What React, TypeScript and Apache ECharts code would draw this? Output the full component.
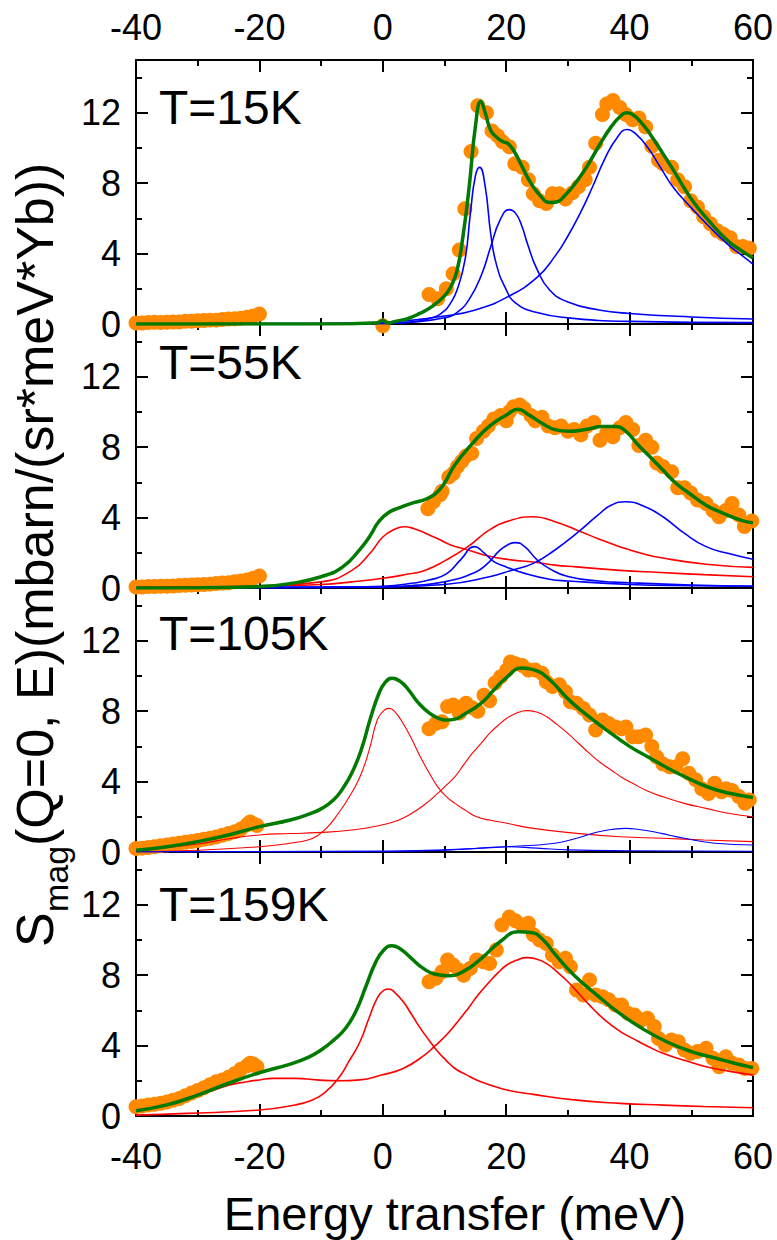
import React, { useEffect, useRef } from 'react';
import * as echarts from 'echarts';

type P = [number, number];

// ---------- T = 15 K ----------
const data15: P[] = [
  [-40, 0.05], [-39, 0.05], [-38, 0.08], [-37, 0.1], [-36, 0.08], [-35, 0.1], [-34, 0.12], [-33, 0.12],
  [-32, 0.15], [-31, 0.15], [-30, 0.18], [-29, 0.2], [-28, 0.22], [-27, 0.22], [-26, 0.25], [-25, 0.28],
  [-24, 0.3], [-23, 0.33], [-22, 0.38], [-21, 0.45], [-20, 0.57], [0, -0.1],
  [7.5, 1.67], [8.9, 1.43], [10.3, 2.0], [11.4, 2.85], [12.4, 4.2], [13.3, 6.55], [14.3, 9.8], [15.4, 12.4],
  [16.8, 12.0], [17.7, 10.97], [18.6, 10.7], [19.4, 10.36], [20.5, 10.07], [21.4, 9.1], [22.6, 8.9], [23.6, 8.2],
  [24.4, 7.4], [25.4, 7.0], [26.5, 6.85], [27.5, 7.4], [28.6, 7.4], [29.6, 7.1], [30.7, 7.45], [31.7, 7.8],
  [32.8, 8.2], [33.5, 8.9], [34.5, 10.27], [35.6, 11.9], [36.3, 12.5], [37.3, 12.7], [38.4, 12.3], [39.4, 11.9],
  [40.5, 11.6], [41.5, 11.7], [42.6, 11.2], [43.6, 10.1], [44.7, 9.3], [45.4, 9.1], [46.8, 8.9], [47.8, 8.2],
  [48.9, 7.8], [49.9, 7.0], [51.0, 6.65], [52.0, 6.1], [53.1, 5.7], [54.2, 5.3], [55.2, 5.1], [56.3, 4.9],
  [57.3, 4.4], [58.4, 4.4], [59.4, 4.3],
];
const fit15: P[] = [
  [-40, 0], [-20, 0], [-5, 0.02], [-1, 0.05], [0, 0.2], [0.8, 0.05], [2, 0.15], [4, 0.3], [6, 0.6], [8, 1.0],
  [10, 1.6], [11, 2.1], [12, 3.0], [13, 5.0], [14, 7.8], [15, 11.2], [15.9, 12.65], [16.6, 12.0], [17.5, 11.0],
  [18.5, 10.6], [19.5, 10.35], [20.3, 10.25], [21.3, 9.8], [22.5, 9.0], [24, 8.0], [25.5, 7.3], [27, 6.9],
  [28.3, 6.95], [29.5, 7.3], [31, 7.9], [33, 8.9], [35, 10.1], [37, 11.2], [38.5, 11.8], [39.5, 12.0],
  [40.5, 11.9], [42, 11.4], [43.5, 10.7], [45, 9.9], [47, 8.8], [50, 7.1], [53, 5.8], [56, 4.7], [58, 4.2], [60, 3.75],
];
const blue15a: P[] = [
  [-40, 0], [-10, 0.01], [0, 0.03], [5, 0.12], [8, 0.35], [10, 0.75], [11, 1.2], [12, 1.9], [13.3, 3.6],
  [14.2, 6.3], [15.0, 8.4], [15.7, 8.9], [16.6, 7.8], [17.5, 5.1], [18.4, 3.4], [19.8, 2.1], [21.5, 1.2],
  [25, 0.65], [30, 0.35], [40, 0.15], [60, 0.08],
];
const blue15b: P[] = [
  [-40, 0], [0, 0.03], [5, 0.12], [10, 0.35], [12, 0.65], [14, 1.4], [16, 2.8], [17.5, 4.4], [19, 5.9],
  [20.5, 6.5], [21.5, 6.3], [22.5, 5.6], [23.5, 4.5], [25, 3.1], [27, 1.95], [30, 1.25], [35, 0.8], [40, 0.6],
  [50, 0.4], [60, 0.28],
];
const blue15c: P[] = [
  [-40, 0], [-10, 0.03], [0, 0.1], [10, 0.45], [15, 0.8], [20, 1.5], [25, 2.65], [28, 3.9], [30, 5.0],
  [32, 6.3], [34, 7.8], [36, 9.4], [38, 10.6], [39.6, 11.05], [41, 10.8], [43, 10.0], [45, 8.9], [47, 7.8],
  [50, 6.6], [53, 5.5], [56, 4.5], [58, 3.95], [60, 3.4],
];

// ---------- T = 55 K ----------
const data55: P[] = [
  [-40, 0.05], [-39, 0.06], [-38, 0.08], [-37, 0.08], [-36, 0.1], [-35, 0.1], [-34, 0.12], [-33, 0.14],
  [-32, 0.15], [-31, 0.17], [-30, 0.18], [-29, 0.2], [-28, 0.22], [-27, 0.25], [-26, 0.28], [-25, 0.3],
  [-24, 0.35], [-23, 0.4], [-22, 0.45], [-21, 0.55], [-20, 0.68],
  [7.3, 4.5], [8.2, 4.9], [9.3, 5.3], [9.6, 5.5], [10.7, 6.3], [11.4, 6.5], [12.1, 6.9], [12.8, 7.2],
  [13.5, 7.5], [14.4, 7.65], [15.2, 8.5], [16.3, 8.9], [17.1, 9.2], [18.0, 9.6], [19.1, 9.8], [20.0, 9.5],
  [20.5, 10.0], [21.2, 10.3], [22.2, 10.4], [22.9, 10.2], [24.0, 9.8], [24.7, 9.5], [25.8, 9.7], [26.8, 9.2],
  [27.9, 9.1], [28.9, 9.2], [30.0, 8.9], [31.0, 9.0], [32.1, 8.7], [33.1, 9.2], [34.2, 9.4], [35.2, 8.4],
  [36.3, 8.8], [37.3, 8.6], [38.4, 9.1], [39.4, 9.4], [40.5, 9.0], [41.5, 8.1], [42.6, 8.4], [43.6, 8.0],
  [44.4, 7.1], [45.4, 6.9], [46.8, 6.6], [47.8, 5.7], [48.9, 5.7], [49.9, 5.4], [51.0, 5.0], [52.4, 4.8],
  [53.5, 4.4], [54.5, 4.05], [55.6, 4.4], [56.6, 4.8], [57.7, 4.15], [58.6, 3.5], [59.8, 3.8],
];
const fit55: P[] = [
  [-40, 0], [-30, 0.02], [-20, 0.08], [-15, 0.25], [-10, 0.64], [-6.5, 1.2], [-3.7, 2.2], [-2, 3.0],
  [-0.7, 3.75], [1, 4.3], [3, 4.6], [5, 4.85], [7, 5.05], [8.5, 5.35], [9.8, 5.85], [11.7, 7.0],
  [14.5, 8.2], [17.3, 9.2], [20.1, 9.85], [21.9, 10.15], [23.6, 9.85], [25.8, 9.36], [27.9, 9.0], [30.3, 8.9],
  [32.8, 9.0], [35.6, 9.17], [37.7, 9.17], [39.4, 8.9], [41.2, 8.2], [43.3, 7.46], [45.4, 6.7], [47.5, 5.95],
  [49.6, 5.4], [52.4, 4.7], [55.2, 4.24], [58, 3.86], [60, 3.7],
];
const red55a: P[] = [
  [-40, 0.04], [-30, 0.06], [-20, 0.12], [-10, 0.35], [-5, 1.0], [-2, 2.0], [0, 2.9], [2, 3.35], [3.5, 3.48],
  [5, 3.38], [7, 3.1], [8.9, 2.8], [11, 2.45], [13.8, 2.16], [17.3, 1.8], [20.8, 1.6], [24.4, 1.48],
  [27.9, 1.3], [31.4, 1.2], [38.4, 1.0], [45, 0.88], [52, 0.76], [60, 0.64],
];
const red55b: P[] = [
  [-40, 0.02], [-20, 0.08], [-10, 0.2], [-5, 0.35], [0, 0.55], [3.5, 0.75], [6.8, 1.0], [10.3, 1.6],
  [13.8, 2.35], [17.3, 3.3], [20.8, 3.85], [24.4, 4.05], [27.9, 3.77], [31.4, 3.3], [34.9, 2.8], [38.4, 2.35],
  [41.9, 1.97], [45.4, 1.7], [52.4, 1.35], [60, 1.17],
];
const blue55a: P[] = [
  [-40, 0], [-10, 0.03], [0, 0.1], [5, 0.28], [7.5, 0.45], [10.3, 0.8], [12.6, 1.6], [14.9, 2.35],
  [16.5, 1.97], [18, 1.5], [20, 1.2], [23, 0.83], [27, 0.5], [30, 0.4], [40, 0.2], [50, 0.13], [60, 0.1],
];
const blue55b: P[] = [
  [-40, 0], [0, 0.07], [5, 0.15], [10, 0.35], [15, 0.9], [17, 1.4], [19, 2.15], [20.5, 2.5], [21.5, 2.58],
  [23, 2.35], [25, 1.6], [27, 1.1], [30, 0.65], [35, 0.4], [40, 0.3], [50, 0.17], [60, 0.1],
];
const blue55c: P[] = [
  [-40, 0], [0, 0.05], [10, 0.2], [17.3, 0.64], [20.8, 1.0], [24.4, 1.4], [27.9, 2.16], [31.4, 3.1],
  [34.9, 4.15], [37, 4.7], [39.4, 4.9], [42.6, 4.6], [45.4, 4.05], [48.9, 3.1], [52.4, 2.35], [55.9, 1.97],
  [60, 1.63],
];

// ---------- T = 105 K ----------
const data105: P[] = [
  [-40, 0.2], [-39, 0.22], [-38, 0.25], [-37, 0.3], [-36, 0.35], [-35, 0.4], [-34, 0.45], [-33, 0.5],
  [-32, 0.55], [-31, 0.6], [-30, 0.65], [-29, 0.72], [-28, 0.78], [-27, 0.85], [-26, 0.95], [-25, 1.05],
  [-24, 1.15], [-23, 1.3], [-22, 1.55], [-21.5, 1.7], [-21, 1.6], [-20.4, 1.5],
  [7.5, 7.0], [8.6, 7.3], [9.6, 7.4], [10.5, 8.26], [11.4, 8.35], [12.4, 7.9], [13.5, 8.45], [14.5, 8.2],
  [15.4, 8.0], [16.4, 8.9], [17.3, 8.6], [18.2, 9.6], [19.1, 9.96], [20.1, 10.34], [20.7, 10.8], [21.5, 10.7],
  [22.6, 10.6], [23.6, 10.34], [24.7, 10.34], [25.8, 10.15], [26.5, 9.68], [27.5, 9.4], [28.6, 9.5], [29.6, 9.1],
  [30.4, 8.54], [31.4, 8.45], [32.5, 8.16], [33.5, 7.78], [34.5, 6.93], [35.6, 7.5], [36.6, 7.3], [37.7, 7.1],
  [38.7, 7.0], [39.4, 7.1], [40.5, 6.55], [41.5, 6.55], [42.6, 6.65], [43.6, 6.0], [44.4, 5.4], [45.4, 5.0],
  [46.5, 4.85], [47.5, 4.85], [48.6, 5.3], [49.6, 4.47], [50.7, 4.1], [51.7, 3.6], [52.8, 3.33], [53.8, 3.9],
  [54.9, 3.43], [55.6, 3.6], [56.6, 3.5], [57.7, 3.15], [58.7, 2.77], [59.4, 2.95],
];
const fit105: P[] = [
  [-40, 0.1], [-35, 0.3], [-30, 0.59], [-25, 0.97], [-20, 1.44], [-15, 1.82], [-12, 2.15], [-10, 2.45],
  [-8, 2.95], [-6.5, 3.6], [-5, 4.5], [-3.5, 5.8], [-2, 7.6], [-0.7, 8.95], [0.3, 9.6], [1.5, 9.87],
  [2.8, 9.7], [4.2, 9.2], [5.7, 8.5], [7.5, 7.9], [9, 7.6], [10.3, 7.5], [11.7, 7.55], [13.1, 7.8],
  [15.9, 8.45], [18, 9.2], [20, 9.9], [22.5, 10.45], [24.5, 10.35], [27, 9.8], [30, 8.7], [33, 7.8],
  [36, 7.0], [40, 6.0], [43, 5.4], [46, 4.8], [50, 4.1], [53, 3.65], [56, 3.35], [60, 3.1],
];
const red105a: P[] = [
  [-40, 0.03], [-30, 0.1], [-20, 0.3], [-15, 0.5], [-12, 0.7], [-10.5, 0.95], [-9, 1.4], [-7.2, 2.2],
  [-5.5, 3.1], [-3.7, 4.28], [-2.2, 5.8], [-0.9, 7.5], [0.2, 8.05], [1.05, 8.16], [2, 7.95], [3.3, 7.3],
  [4.7, 6.4], [6.1, 5.4], [7.5, 4.5], [8.9, 3.7], [10.3, 3.15], [11.7, 2.76], [13.5, 2.35], [15.2, 2.0],
  [17.5, 1.8], [20.1, 1.63], [24.4, 1.34], [31.4, 1.06], [38.4, 0.87], [45.4, 0.78], [52, 0.68], [60, 0.59],
];
const red105b: P[] = [
  [-40, 0.1], [-35, 0.25], [-30, 0.45], [-25, 0.75], [-20, 0.97], [-15, 1.05], [-10.7, 1.1], [-5, 1.25],
  [-0.2, 1.53], [2.5, 1.8], [4.7, 2.2], [6.8, 2.7], [8.9, 3.33], [10.3, 3.8], [11.7, 4.28], [13.1, 4.95],
  [14.5, 5.6], [16, 6.2], [17.3, 6.74], [18.7, 7.2], [20.1, 7.6], [21.7, 7.9], [23.3, 8.03], [24.9, 7.95],
  [26.5, 7.7], [28.2, 7.25], [30, 6.74], [31.8, 6.15], [33.5, 5.6], [35.2, 5.1], [37, 4.66], [38.7, 4.25],
  [40.5, 3.9], [43, 3.45], [45.4, 3.14], [49, 2.75], [52.4, 2.48], [56, 2.2], [60, 2.0],
];
const blue105a: P[] = [
  [-40, 0], [0, 0.05], [10, 0.12], [20, 0.3], [27.9, 0.5], [31.4, 0.78], [35, 1.15], [37.5, 1.3],
  [39.4, 1.34], [41.5, 1.28], [43.9, 1.15], [46.5, 0.95], [48.9, 0.78], [53.8, 0.5], [60, 0.4],
];
const blue105b: P[] = [
  [-40, 0], [0, 0.02], [10, 0.1], [15, 0.2], [20, 0.3], [25, 0.22], [30, 0.12], [40, 0.07], [60, 0.04],
];

// ---------- T = 159 K ----------
const data159: P[] = [
  [-40, 0.53], [-39, 0.57], [-38, 0.62], [-37, 0.67], [-36, 0.72], [-35, 0.8], [-34, 0.9], [-33, 1.0],
  [-32, 1.15], [-31, 1.3], [-30, 1.45], [-29, 1.6], [-28, 1.78], [-27, 1.95], [-26, 2.05], [-25, 2.2],
  [-24, 2.4], [-23, 2.65], [-22, 2.85], [-21.5, 3.0], [-21, 2.95], [-20.4, 2.8],
  [7.5, 7.63], [8.6, 7.82], [9.6, 8.2], [10.5, 8.86], [11.4, 8.58], [12.3, 8.3], [13.1, 8.0], [14.2, 8.4],
  [15.2, 8.86], [16.3, 8.77], [17.3, 8.67], [18.4, 9.43], [19.3, 10.85], [20.5, 11.3], [21.5, 11.1], [22.6, 10.85],
  [23.6, 10.95], [24.4, 10.3], [25.4, 10.0], [26.5, 9.8], [27.5, 9.15], [28.6, 8.77], [29.6, 8.96], [30.4, 8.48],
  [31.4, 7.16], [32.5, 6.87], [33.5, 7.73], [34.5, 6.87], [35.6, 6.78], [36.6, 6.6], [37.7, 6.3], [38.7, 6.3],
  [39.8, 5.83], [40.8, 5.74], [41.9, 5.45], [42.9, 5.55], [44.0, 5.08], [44.7, 4.41], [45.8, 4.03], [46.8, 4.32],
  [47.9, 4.22], [48.9, 3.75], [49.9, 3.56], [51.0, 3.66], [52.4, 3.85], [53.5, 3.28], [54.5, 2.8], [55.6, 3.37],
  [56.6, 3.0], [57.7, 2.9], [58.7, 2.7], [59.8, 2.7],
];
const fit159: P[] = [
  [-40, 0.3], [-35, 0.63], [-30, 1.19], [-25, 1.86], [-20, 2.46], [-15, 2.95], [-12, 3.35], [-10, 3.75],
  [-8, 4.3], [-6, 5.0], [-4.3, 6.0], [-2.7, 7.4], [-1.2, 8.7], [0.2, 9.45], [1.5, 9.68], [2.8, 9.5],
  [4.5, 9.0], [6.5, 8.4], [8.5, 8.05], [10.5, 7.97], [13, 8.2], [16, 8.96], [19, 9.9], [22, 10.47],
  [24, 10.43], [26, 10.0], [28, 9.15], [31, 8.0], [35, 6.78], [38, 5.93], [42, 4.98], [46, 4.22], [50, 3.66],
  [54, 3.28], [57, 3.0], [60, 2.75],
];
const red159a: P[] = [
  [-40, 0.05], [-31.8, 0.15], [-20, 0.34], [-14.2, 0.63], [-11.5, 0.9], [-9.5, 1.3], [-7.2, 2.14], [-5.5, 3.1],
  [-3.7, 4.22], [-2.2, 5.6], [-0.9, 6.7], [0.2, 7.15], [1.0, 7.22], [2, 7.0], [3.3, 6.5], [4.7, 5.75],
  [6.1, 4.98], [7.5, 4.3], [8.9, 3.66], [10.3, 3.15], [11.7, 2.7], [13.5, 2.35], [15.2, 2.05], [17.5, 1.75],
  [20.1, 1.48], [24.4, 1.23], [31.4, 0.9], [38.4, 0.72], [45.4, 0.62], [52, 0.54], [60, 0.47],
];
const red159b: P[] = [
  [-40, 0.3], [-35.5, 0.62], [-31.8, 1.0], [-28, 1.4], [-24.8, 1.76], [-22, 1.95], [-20, 2.05], [-17.8, 2.14],
  [-14.2, 2.14], [-10.7, 2.05], [-7.2, 2.0], [-3.7, 2.05], [-0.2, 2.33], [3.3, 2.7], [6.8, 3.47], [8.5, 4.0],
  [10.3, 4.6], [12, 5.3], [13.8, 6.1], [15.5, 6.9], [17.3, 7.63], [18.7, 8.15], [20.1, 8.58], [21.7, 8.85],
  [23.3, 9.0], [24.9, 8.92], [26.5, 8.67], [28.2, 8.2], [30, 7.63], [31.8, 6.95], [33.5, 6.3], [35.2, 5.7],
  [37, 5.17], [38.7, 4.75], [40.5, 4.41], [43, 3.95], [45.4, 3.56], [49, 3.15], [52.4, 2.8], [56, 2.55],
  [60, 2.33],
];

const xTicks = { min: -40, max: 60, interval: 20 };
const yTicks = { min: 0, max: 15, major: 4, minor: 2 };
const tempLabels = ['T=15K', 'T=55K', 'T=105K', 'T=159K'];
const xTitle = 'Energy transfer (meV)';
const yTitleMain = '(Q=0, E)(mbarn/(sr*meV*Yb))';

const panels = [
  { data: data15, fit: fit15, blue: [blue15a, blue15b, blue15c], red: [] as P[][], labelY: 107, thin: 1.6 },
  { data: data55, fit: fit55, blue: [blue55a, blue55b, blue55c], red: [red55a, red55b], labelY: 362, thin: 1.6 },
  { data: data105, fit: fit105, blue: [blue105a, blue105b], red: [red105a, red105b], labelY: 633, thin: 1.1 },
  { data: data159, fit: fit159, blue: [] as P[][], red: [red159a, red159b], labelY: 904, thin: 1.6 },
];

const FONT = "'Liberation Sans', Arial, Helvetica, sans-serif";
const BLACK = '#000000';
const ORANGE = '#FF8A00';
const GREEN = '#007A00';
const BLUE = '#0000FF';
const RED = '#FF0000';

const GRID_TOP = 60;
const GRID_H = 264;
const GRID_LEFT = 136;
const GRID_RIGHT = 24;
const SMOOTH = 0.5;

export default function App() {
  const ref = useRef<HTMLDivElement>(null);

  useEffect(() => {
    const chart = echarts.init(ref.current as HTMLDivElement, null, { renderer: 'svg' });

    const grids: any[] = [];
    const xAxes: any[] = [];
    const yAxes: any[] = [];
    const series: any[] = [];

    const axisLine = { show: true, onZero: false, lineStyle: { color: BLACK, width: 2 } };

    panels.forEach((p, i) => {
      grids.push({ left: GRID_LEFT, right: GRID_RIGHT, top: GRID_TOP + i * GRID_H, height: GRID_H, containLabel: false });

      ['bottom', 'top'].forEach((pos) => {
        const showLab = (pos === 'bottom' && i === 3) || (pos === 'top' && i === 0);
        xAxes.push({
          type: 'value', gridIndex: i, position: pos,
          min: xTicks.min, max: xTicks.max, interval: xTicks.interval,
          axisLine,
          axisTick: { show: true, inside: true, length: 12, lineStyle: { color: BLACK, width: 2 } },
          minorTick: { show: true, splitNumber: 2, length: 6, lineStyle: { color: BLACK, width: 2 } },
          axisLabel: { show: showLab, fontSize: 36, color: BLACK, fontFamily: FONT, margin: pos === 'top' ? 15 : 22 },
          splitLine: { show: false }, minorSplitLine: { show: false },
        });
      });

      ['left', 'right'].forEach((pos) => {
        yAxes.push({
          type: 'value', gridIndex: i, position: pos,
          min: yTicks.min, max: yTicks.max, interval: yTicks.major,
          axisLine,
          axisTick: { show: true, inside: true, length: 12, lineStyle: { color: BLACK, width: 2 } },
          axisLabel: {
            show: pos === 'left', fontSize: 36, color: BLACK, fontFamily: FONT, margin: 15,
            showMaxLabel: false,
            formatter: (v: number) => (v % yTicks.major === 0 ? String(v) : ''),
          },
          splitLine: { show: false },
        });
        yAxes.push({
          type: 'value', gridIndex: i, position: pos,
          min: yTicks.min, max: yTicks.max, interval: yTicks.minor,
          axisLine: { show: false, onZero: false },
          axisTick: { show: true, inside: true, length: 6, lineStyle: { color: BLACK, width: 2 } },
          axisLabel: { show: false },
          splitLine: { show: false },
        });
      });

      const xi = i * 2;
      const yi = i * 4;

      series.push({
        type: 'scatter', xAxisIndex: xi, yAxisIndex: yi, data: p.data,
        symbol: 'circle', symbolSize: 15, clip: false,
        itemStyle: { color: ORANGE, opacity: 1 }, z: 2,
      });
      p.red.forEach((d) => {
        series.push({
          type: 'line', xAxisIndex: xi, yAxisIndex: yi, data: d, showSymbol: false,
          smooth: SMOOTH, lineStyle: { color: RED, width: p.thin }, z: 3,
        });
      });
      p.blue.forEach((d) => {
        series.push({
          type: 'line', xAxisIndex: xi, yAxisIndex: yi, data: d, showSymbol: false,
          smooth: SMOOTH, lineStyle: { color: BLUE, width: p.thin }, z: 3,
        });
      });
      series.push({
        type: 'line', xAxisIndex: xi, yAxisIndex: yi, data: p.fit, showSymbol: false,
        smooth: SMOOTH, lineStyle: { color: GREEN, width: 3.5 }, z: 4,
      });
    });

    const graphics: any[] = panels.map((p, i) => ({
      type: 'text', x: 159, y: p.labelY, z: 10,
      style: { text: tempLabels[i], fontSize: 48, fontFamily: FONT, fill: BLACK, align: 'left', verticalAlign: 'middle' },
    }));

    graphics.push({
      type: 'text', x: 455, y: 1213,
      style: { text: xTitle, fontSize: 47, fontFamily: FONT, fill: BLACK, align: 'center', verticalAlign: 'middle' },
    });

    // Rotated y-axis title: S + subscript "mag" + rest
    graphics.push({
      type: 'text', x: 35, y: 947, rotation: Math.PI / 2,
      style: { text: 'S', fontSize: 52, fontFamily: FONT, fill: BLACK, align: 'left', verticalAlign: 'middle' },
    });
    graphics.push({
      type: 'text', x: 56, y: 912, rotation: Math.PI / 2,
      style: { text: 'mag', fontSize: 34, fontFamily: FONT, fill: BLACK, align: 'left', verticalAlign: 'middle' },
    });
    graphics.push({
      type: 'text', x: 35, y: 846, rotation: Math.PI / 2,
      style: { text: yTitleMain, fontSize: 52, fontFamily: FONT, fill: BLACK, align: 'left', verticalAlign: 'middle' },
    });

    chart.setOption({
      animation: false,
      backgroundColor: '#ffffff',
      grid: grids,
      xAxis: xAxes,
      yAxis: yAxes,
      series,
      graphic: graphics,
    });

    return () => chart.dispose();
  }, []);

  return (
    <div
      ref={ref}
      style={{ position: 'fixed', left: 0, top: 0, width: 777, height: 1240, background: '#ffffff' }}
    />
  );
}
